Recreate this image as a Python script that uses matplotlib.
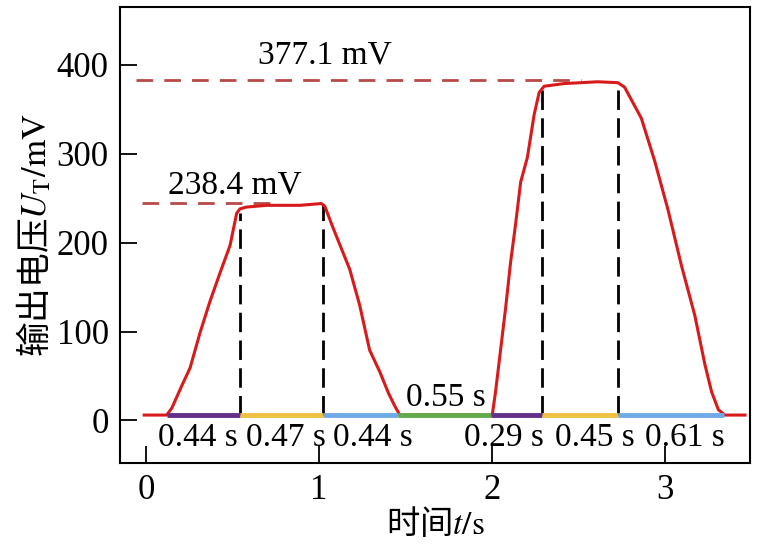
import matplotlib.pyplot as plt
import numpy as np

plt.rcParams['font.family'] = ['Liberation Serif', 'Noto Sans CJK SC']
plt.rcParams['mathtext.fontset'] = 'stix'

# output voltage trace (t in s, U in mV)
t_curve = [-0.01, 0.12, 0.15, 0.207, 0.255, 0.313, 0.37, 0.428, 0.486, 0.524, 0.543, 0.58, 0.697, 0.889,
           1.013, 1.033, 1.08, 1.177, 1.234, 1.292, 1.35, 1.4, 1.435, 1.466,
           2.0, 2.019, 2.048, 2.077, 2.106, 2.135, 2.164, 2.203, 2.242, 2.271, 2.3, 2.416, 2.513, 2.609,
           2.725, 2.764, 2.861, 2.938, 3.015, 3.093, 3.17, 3.228, 3.267, 3.306, 3.344, 3.46]
u_curve = [6, 6, 14, 39, 59, 99, 134, 166, 197, 233, 238, 240, 242, 242,
           244, 241, 217, 170, 130, 79, 55, 31, 17, 6,
           6, 32, 79, 126, 178, 221, 268, 296, 344, 369, 376, 379, 380, 381,
           380, 375, 340, 292, 237, 174, 118, 63, 32, 12, 6, 6]

# phase segments on the baseline
seg_edges = [0.12, 0.545, 1.022, 1.457, 1.995, 2.285, 2.725, 3.34]
seg_colors = ['#64308a', '#f0c040', '#6eaae6', '#62aa4a', '#64308a', '#f0c040', '#6eaae6']
seg_labels = ['0.44 s', '0.47 s', '0.44 s', '0.55 s', '0.29 s', '0.45 s', '0.61 s']
label_x = [0.30, 0.806, 1.31, 1.73, 2.07, 2.595, 3.11]
label_y = [-19, -19, -19, 25, -19, -19, -19]

# vertical markers (t, top U)
vline_t = [0.545, 1.022, 2.285, 2.725]
vline_top = [233, 244, 373, 380]

# peak levels
peak_y = [245, 383]
peak_x0 = [-0.023, -0.06]
peak_x1 = [0.77, 2.51]
peak_text = ['238.4 mV', '377.1 mV']
peak_tx = [0.515, 1.035]
peak_ty = [265, 411]

base = 6

fig = plt.figure(figsize=(7.64, 5.48), dpi=100)
ax = fig.add_axes([0.157, 0.155, 0.825, 0.832])

for i in range(len(peak_y)):
    ax.plot([peak_x0[i], peak_x1[i]], [peak_y[i], peak_y[i]], color='#b84a4a', lw=2, dashes=(6, 4))

for t, top in zip(vline_t, vline_top):
    ax.plot([t, t], [base, top], color='black', lw=2, dashes=(7, 3))

ax.plot(t_curve, u_curve, color='#d91a1a', lw=2.2)

# coloured phase bars sit on top of the trace
for i, c in enumerate(seg_colors):
    ax.plot([seg_edges[i], seg_edges[i + 1]], [base, base], color=c, lw=3.5,
            solid_capstyle='butt', zorder=3)

for s, x, y in zip(seg_labels, label_x, label_y):
    ax.text(x, y, s, ha='center', va='center', fontsize=24)
for s, x, y in zip(peak_text, peak_tx, peak_ty):
    ax.text(x, y, s, ha='center', va='center', fontsize=24)

ax.set_xlim(-0.15, 3.49)
ax.set_ylim(-48, 465)
ax.set_xticks([0, 1, 2, 3])
ax.set_yticks([0, 100, 200, 300, 400])
ax.tick_params(direction='in', length=12, width=1.3, labelsize=25, pad=8)
for sp in ax.spines.values():
    sp.set_linewidth(1.5)

ax.set_xlabel('时间$t/\\mathrm{s}$', fontsize=24, labelpad=0, family='Noto Sans CJK SC')
ax.set_ylabel('输出电压$U_\\mathrm{T}/\\mathrm{mV}$', fontsize=25, labelpad=2, family='Noto Sans CJK SC')

fig.savefig('out.png', dpi=100)
